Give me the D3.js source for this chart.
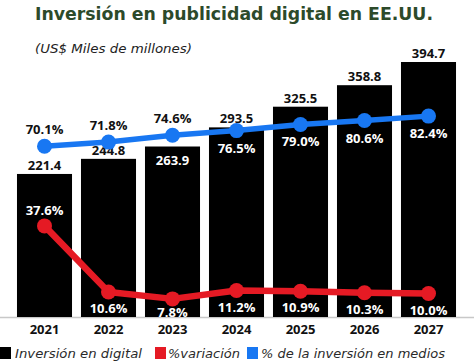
<!DOCTYPE html>
<html><head><meta charset="utf-8">
<script src="https://cdn.jsdelivr.net/npm/d3@7"></script>
<style>body{margin:0;background:#fff}svg{display:block}</style>
</head><body>
<svg id="c" width="474" height="364"></svg>
<script>
const years = ["2021","2022","2023","2024","2025","2026","2027"];
const inversion = [221.4,244.8,263.9,293.5,325.5,358.8,394.7];
const variacion = [37.6,10.6,7.8,11.2,10.9,10.3,10.0];
const pctMedios = [70.1,71.8,74.6,76.5,79.0,80.6,82.4];
const legendLabels = ["Inversión en digital","%variación","% de la inversión en medios"];

const svg = d3.select("#c");
const base = 317;
const x = d3.scaleBand().domain(years).range([12.5,460.5]).paddingInner(0.14).paddingOuter(0.07);
const y = d3.scaleLinear().domain([0,394.7]).range([base,62]);
const yp = d3.scaleLinear().domain([0,100]).range([base+1,73]);
const numFont = "'Open Sans', sans-serif";
const blue = "#1877f2", red = "#e51a24";

// title
svg.append("text").attr("x",234).attr("y",20).attr("text-anchor","middle")
  .attr("font-family","'DejaVu Sans', Verdana, sans-serif").attr("font-weight","bold")
  .attr("font-size",18.5).attr("fill","#2c4a2a").attr("textLength",398).attr("lengthAdjust","spacingAndGlyphs")
  .text("Inversión en publicidad digital en EE.UU.");
svg.append("text").attr("x",35).attr("y",53)
  .attr("font-family","'DejaVu Sans', Verdana, sans-serif").attr("font-style","italic")
  .attr("font-size",13).attr("fill","#222").attr("textLength",157).attr("lengthAdjust","spacingAndGlyphs")
  .text("(US$ Miles de millones)");

// axis line
svg.append("line").attr("x1",0).attr("x2",474).attr("y1",base+0.5).attr("y2",base+0.5).attr("stroke","#c8c8c8").attr("stroke-width",1.5);

// bars
svg.selectAll("rect.bar").data(years).join("rect").attr("class","bar")
  .attr("x",d=>x(d)).attr("width",x.bandwidth())
  .attr("y",(d,i)=>y(inversion[i])).attr("height",(d,i)=>base-y(inversion[i]))
  .attr("fill","#000");

// bar value labels (2023 sits inside its bar)
svg.selectAll("text.bv").data(years).join("text").attr("class","bv")
  .attr("x",d=>x(d)+x.bandwidth()/2).attr("y",(d,i)=> i===2 ? y(inversion[i])+18 : y(inversion[i])-4)
  .attr("text-anchor","middle").attr("font-family",numFont).attr("font-weight",700)
  .attr("font-size",13).attr("fill",(d,i)=> i===2 ? "#fff" : "#111").text((d,i)=>inversion[i].toFixed(1));

const cx = d => x(d)+x.bandwidth()/2;

// lines
function drawLine(vals,color,w){
  const line = d3.line().x((d,i)=>cx(years[i])).y(d=>yp(d));
  svg.append("path").datum(vals).attr("d",line).attr("fill","none").attr("stroke",color)
    .attr("stroke-width",w).attr("stroke-linejoin","round");
  svg.selectAll(null).data(vals).join("circle").attr("cx",(d,i)=>cx(years[i])).attr("cy",d=>yp(d))
    .attr("r",7.5).attr("fill",color);
}
drawLine(pctMedios,blue,5.5);
drawLine(variacion,red,6.5);

// blue labels
svg.selectAll(null).data(pctMedios).join("text")
  .attr("x",(d,i)=>cx(years[i])).attr("y",(d,i)=> i<3 ? yp(d)-12 : yp(d)+22)
  .attr("text-anchor","middle").attr("font-family",numFont).attr("font-weight",700)
  .attr("font-size",13).attr("fill",(d,i)=> i<3 ? "#111" : "#fff").text(d=>d.toFixed(1)+"%");

// red labels
svg.selectAll(null).data(variacion).join("text")
  .attr("x",(d,i)=>cx(years[i])).attr("y",(d,i)=> i===0 ? yp(d)-11 : yp(d)+(i===2?18:21))
  .attr("text-anchor","middle").attr("font-family",numFont).attr("font-weight",700)
  .attr("font-size",13).attr("fill","#fff").text(d=>d.toFixed(1)+"%");

// year labels
svg.selectAll("text.yr").data(years).join("text").attr("class","yr")
  .attr("x",d=>cx(d)).attr("y",334).attr("text-anchor","middle")
  .attr("font-family",numFont).attr("font-weight",700).attr("font-size",13).attr("fill","#111").text(d=>d);

// legend
const leg = [
  {c:"#000", sx:0, tx:15, tl:127},
  {c:red, sx:155, tx:168, tl:72},
  {c:blue, sx:247, tx:261, tl:184}
];
leg.forEach((l,i)=>{
  svg.append("rect").attr("x",l.sx).attr("y",347).attr("width",11).attr("height",12).attr("fill",l.c);
  svg.append("text").attr("x",l.tx).attr("y",358)
    .attr("font-family","'DejaVu Sans', Verdana, sans-serif").attr("font-style","italic")
    .attr("font-size",12.5).attr("fill","#2a2a2a").attr("textLength",l.tl).attr("lengthAdjust","spacingAndGlyphs")
    .text(legendLabels[i]);
});
</script>
</body></html>
